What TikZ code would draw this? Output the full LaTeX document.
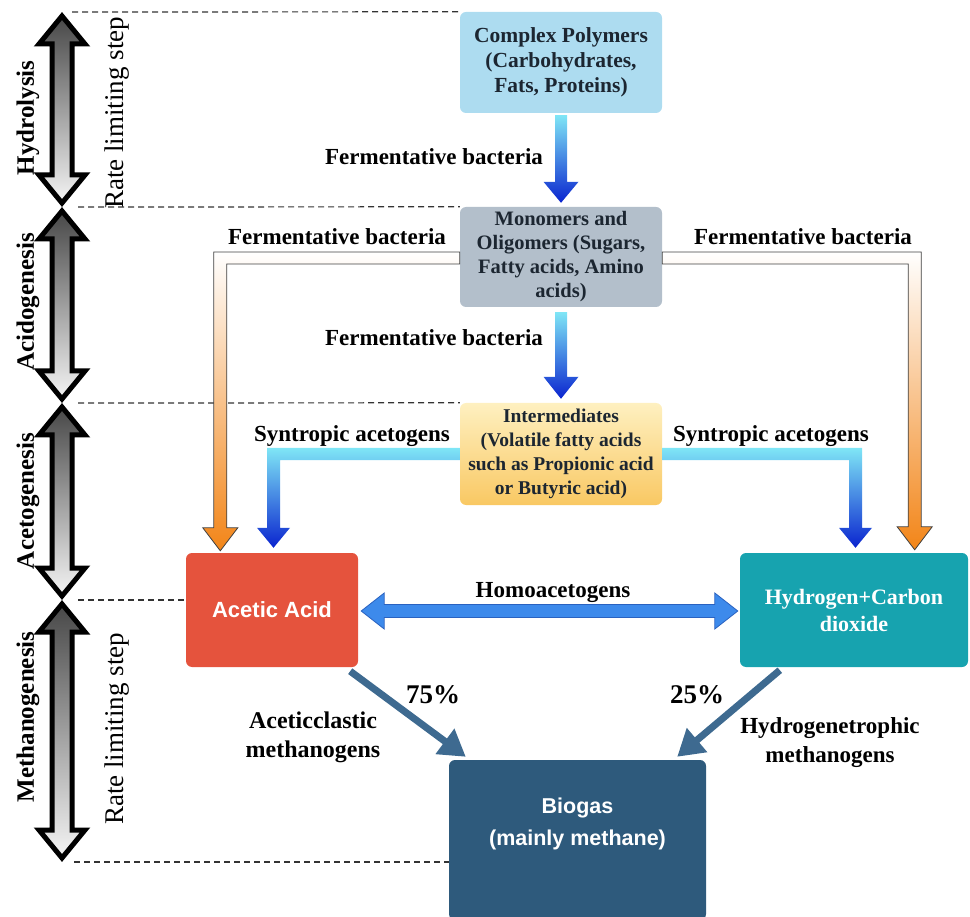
\documentclass[tikz,border=0pt]{standalone}
\usepackage{fontspec}
\setmainfont{Liberation Serif}
\setsansfont{Liberation Sans}
\usetikzlibrary{arrows.meta,calc}
\definecolor{polyc}{HTML}{ADDCF0}
\definecolor{monoc}{HTML}{B3BFCB}
\definecolor{intertop}{HTML}{FEF0C0}
\definecolor{interbot}{HTML}{F9C863}
\definecolor{acetc}{HTML}{E5533D}
\definecolor{hydroc}{HTML}{17A3AF}
\definecolor{bioc}{HTML}{2E5A7C}
\definecolor{boxtext}{HTML}{1C2631}
\definecolor{cyanA}{HTML}{7FE6F6}
\definecolor{blueB}{HTML}{0A24CF}
\definecolor{orangeB}{HTML}{F28518}
\definecolor{homoc}{HTML}{3D8AEB}
\definecolor{homoline}{HTML}{2A62C0}
\definecolor{methc}{HTML}{3E6A90}
\definecolor{dashc}{HTML}{333333}
\begin{document}
\begin{tikzpicture}[x=1pt,y=-1pt,
  box/.style={rounded corners=6pt, inner sep=0pt, align=center},
  lbl/.style={font=\fontsize{23}{26}\selectfont\bfseries, inner sep=0pt, align=center},
  stagelbl/.style={font=\fontsize{25}{28}\selectfont\bfseries, rotate=90, inner sep=0pt},
  ratelbl/.style={font=\fontsize{27}{30}\selectfont, rotate=90, inner sep=0pt},
  guide/.style={draw=dashc, line width=1.2pt, dash pattern=on 6pt off 4pt},
  stagebar/.style={draw=black, line width=5pt, line join=miter, top color=black!72, bottom color=black!4},
  flowblue/.style={top color=cyanA, bottom color=blueB},
  floworange/.style={draw=black!75, line width=0.8pt, top color=white, bottom color=orangeB},
  homo/.style={fill=homoc, draw=homoline, line width=0.8pt},
  meth/.style={draw=methc, line width=7pt, -{Triangle[length=26pt,width=30pt]}}]

\useasboundingbox (0,0) rectangle (970,917);

% ---------- boxes ----------
\node[box, fill=polyc, text=boxtext, minimum width=202pt, minimum height=101pt,
      font=\fontsize{21.5}{25}\selectfont\bfseries] (poly) at (561,62.5)
      {Complex Polymers\\(Carbohydrates,\\Fats, Proteins)};
\node[box, fill=monoc, text=boxtext, minimum width=202pt, minimum height=100pt,
      font=\fontsize{20.5}{24}\selectfont\bfseries] (mono) at (561,257)
      {Monomers and\\Oligomers (Sugars,\\Fatty acids, Amino\\acids)};
\node[box, top color=intertop, bottom color=interbot, text=boxtext, minimum width=202pt, minimum height=102pt,
      font=\fontsize{19.5}{24}\selectfont\bfseries] (inter) at (561,454)
      {Intermediates\\(Volatile fatty acids\\such as Propionic acid\\or Butyric acid)};
\node[box, fill=acetc, text=white, minimum width=172pt, minimum height=114pt,
      font=\fontsize{22}{26}\selectfont\sffamily\bfseries] (acetic) at (272,610) {Acetic Acid};
\node[box, fill=hydroc, text=white, minimum width=228pt, minimum height=114pt,
      font=\fontsize{22}{27}\selectfont\bfseries] (hydro) at (854,610) {Hydrogen+Carbon\\dioxide};
\node[box, fill=bioc, text=white, minimum width=257pt, minimum height=160pt,
      font=\fontsize{21.5}{32}\selectfont\sffamily\bfseries] (biogas) at (577.5,840)
      {Biogas\\(mainly methane)\rule[-36pt]{0pt}{0pt}};

% ---------- stage bar ----------
\coordinate (s0) at (62,12);
\coordinate (s1) at (62,207);
\coordinate (s2) at (62,403);
\coordinate (s3) at (62,600);
\coordinate (s4) at (62,862);
\newcommand\stagearr[2]{%
  \path[stagebar] ($(#1)+(0,4)$) -- ($(#1)+(23,32)$) -- ($(#1)+(10,32)$) -- ($(#2)+(10,-32)$)
    -- ($(#2)+(23,-32)$) -- ($(#2)+(0,-4)$) -- ($(#2)+(-23,-32)$) -- ($(#2)+(-10,-32)$)
    -- ($(#1)+(-10,32)$) -- ($(#1)+(-23,32)$) -- cycle;}
\stagearr{s0}{s1}
\stagearr{s1}{s2}
\stagearr{s2}{s3}
\stagearr{s3}{s4}

\node[stagelbl] (hydrolysis) at (28,118) {Hydrolysis};
\node[stagelbl] (acido) at (28,302) {Acidogenesis};
\node[stagelbl] (aceto) at (28,501) {Acetogenesis};
\node[stagelbl] (metha) at (28,717) {Methanogenesis};
\node[ratelbl] (rate1) at (117,113) {Rate limiting step};
\node[ratelbl] (rate2) at (117,729) {Rate limiting step};

% ---------- dashed guides ----------
\draw[guide] ($(s0)+(10,0)$) -- (poly.north west);
\draw[guide] ($(s1)+(16,0)$) -- (mono.north west);
\draw[guide] ($(s2)+(16,0)$) -- (inter.north west);
\draw[guide] ($(s3)+(16,0)$) -- (acetic.west |- s3);
\draw[guide] ($(s4)+(12,0)$) -- (biogas.west |- s4);

% ---------- vertical blue arrows ----------
\shade[flowblue] ($(poly.south)+(-6,2)$) -- ($(mono.north)+(-6,-25)$) -- ($(mono.north)+(-17.5,-25)$)
  -- ($(mono.north)+(0,-4)$) -- ($(mono.north)+(17.5,-25)$) -- ($(mono.north)+(6,-25)$)
  -- ($(poly.south)+(6,2)$) -- cycle;
\shade[flowblue] ($(mono.south)+(-6,5)$) -- ($(inter.north)+(-6,-26)$) -- ($(inter.north)+(-17.5,-26)$)
  -- ($(inter.north)+(0,-4)$) -- ($(inter.north)+(17.5,-26)$) -- ($(inter.north)+(6,-26)$)
  -- ($(mono.south)+(6,5)$) -- cycle;

% ---------- orange L arrows ----------
\coordinate (otL) at ($(acetic.north west)+(34.5,-2)$);
\path[floworange] ($(mono.west)+(0,-5)$) -| ($(otL)+(-6.5,-23)$) -- ($(otL)+(-17.5,-23)$) -- (otL)
  -- ($(otL)+(17.5,-23)$) -- ($(otL)+(6.5,-23)$) |- ($(mono.west)+(0,7)$) -- cycle;
\coordinate (otR) at ($(hydro.north east)+(-53.5,-3)$);
\path[floworange] ($(mono.east)+(0,-5)$) -| ($(otR)+(6.5,-23)$) -- ($(otR)+(17.5,-23)$) -- (otR)
  -- ($(otR)+(-17.5,-23)$) -- ($(otR)+(-6.5,-23)$) |- ($(mono.east)+(0,7)$) -- cycle;

% ---------- cyan L arrows ----------
\coordinate (ctL) at ($(acetic.north)+(1.5,-5)$);
\shade[flowblue] ($(inter.west)+(0,-6)$) -| ($(ctL)+(-6.5,-20)$) -- ($(ctL)+(-16.5,-20)$) -- (ctL)
  -- ($(ctL)+(16.5,-20)$) -- ($(ctL)+(6.5,-20)$) |- ($(inter.west)+(0,6)$) -- cycle;
\coordinate (ctR) at ($(hydro.north)+(1.5,-5)$);
\shade[flowblue] ($(inter.east)+(0,-6)$) -| ($(ctR)+(6.5,-20)$) -- ($(ctR)+(16.5,-20)$) -- (ctR)
  -- ($(ctR)+(-16.5,-20)$) -- ($(ctR)+(-6.5,-20)$) |- ($(inter.east)+(0,6)$) -- cycle;

% ---------- homoacetogens double arrow ----------
\coordinate (hL) at ($(acetic.east)+(3,1)$);
\coordinate (hR) at ($(hydro.west)+(-2,1)$);
\path[homo] (hL) -- ($(hL)+(23,-18)$) -- ($(hL)+(23,-6.5)$) -- ($(hR)+(-23,-6.5)$) -- ($(hR)+(-23,-18)$)
  -- (hR) -- ($(hR)+(-23,18)$) -- ($(hR)+(-23,6.5)$) -- ($(hL)+(23,6.5)$) -- ($(hL)+(23,18)$) -- cycle;

% ---------- methanogen arrows ----------
\draw[meth] ($(acetic.south east)+(-8,4)$) -- ($(biogas.north west)+(17,-3)$);
\draw[meth] ($(hydro.south west)+(40,3)$) -- ($(biogas.north east)+(-29,-3)$);

% ---------- labels ----------
\node[lbl] (fb1) at (434,157) {Fermentative bacteria};
\node[lbl] (fb2) at (337,237) {Fermentative bacteria};
\node[lbl] (fb3) at (803,237) {Fermentative bacteria};
\node[lbl] (fb4) at (434,338) {Fermentative bacteria};
\node[lbl] (sa1) at (352,436) {Syntropic acetogens};
\node[lbl] (sa2) at (771,436) {Syntropic acetogens};
\node[lbl] (homolbl) at (553,593) {Homoacetogens};
\node[lbl, font=\fontsize{27}{30}\selectfont\bfseries] (p75) at (433,695) {75\%};
\node[lbl, font=\fontsize{27}{30}\selectfont\bfseries] (p25) at (697,695) {25\%};
\node[lbl, font=\fontsize{24}{29}\selectfont\bfseries] (acm) at (313,737) {Aceticclastic\\methanogens};
\node[lbl, font=\fontsize{23}{29}\selectfont\bfseries] (hym) at (830,743) {Hydrogenetrophic\\methanogens};
\end{tikzpicture}
\end{document}
